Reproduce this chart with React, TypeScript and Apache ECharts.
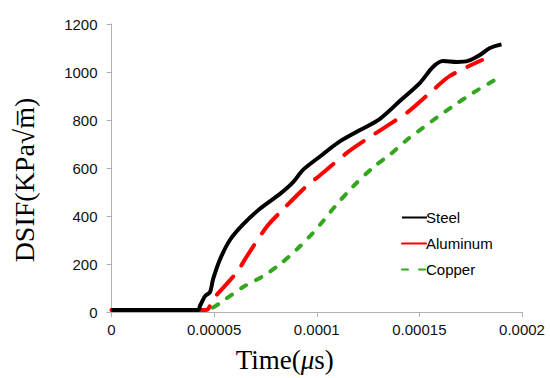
import React, { useEffect, useRef } from "react";
import * as echarts from "echarts";

const xTicks = [0, 0.00005, 0.0001, 0.00015, 0.0002];
const yTicks = [0, 200, 400, 600, 800, 1000, 1200];

const steelT = [0, 0.0000422, 0.0000431, 0.0000456, 0.000048, 0.0000495, 0.0000529, 0.0000577, 0.0000641, 0.0000723, 0.0000821, 0.0000884, 0.0000933, 0.0001016, 0.0001104, 0.0001211, 0.0001308, 0.0001406, 0.0001503, 0.0001566, 0.0001615, 0.0001683, 0.0001737, 0.0001795, 0.0001844, 0.00019];
const steelV = [8, 8, 25, 66, 83, 137, 220, 300, 365, 430, 492, 540, 592, 648, 706, 758, 805, 880, 955, 1021, 1046, 1042, 1046, 1071, 1100, 1115];

const aluT = [0, 0.000046, 0.0000495, 0.0000611, 0.000066, 0.0000758, 0.0000821, 0.0000943, 0.0001016, 0.0001148, 0.0001225, 0.0001367, 0.0001445, 0.0001576, 0.0001649, 0.0001805];
const aluV = [8, 8, 54, 166, 233, 357, 415, 519, 570, 664, 710, 789, 834, 932, 984, 1050];

const copT = [0, 0.0000445, 0.000048, 0.0000543, 0.0000641, 0.0000738, 0.0000821, 0.0000904, 0.0000967, 0.000103, 0.0001089, 0.0001177, 0.0001274, 0.0001357, 0.000144, 0.0001518, 0.0001591, 0.0001659, 0.0001761, 0.0001844, 0.0001868];
const copV = [8, 8, 12, 46, 104, 149, 199, 262, 316, 378, 440, 523, 602, 656, 718, 768, 814, 855, 913, 955, 967];

const zip = (t: number[], v: number[]) => t.map((x, i) => [x, v[i]]);

export default function App() {
  const ref = useRef<HTMLDivElement>(null);
  useEffect(() => {
    if (!ref.current) return;
    const chart = echarts.init(ref.current, null, { renderer: "svg" });
    const axisLabel = { fontFamily: "Liberation Sans, Arial", fontSize: 15, color: "#111" };
    const serif = "Liberation Serif, Times New Roman";
    chart.setOption({
      animation: false,
      grid: { left: 111.5, right: 28, top: 24, bottom: 65 },
      legend: {
        orient: "vertical",
        left: 396,
        top: 205,
        itemWidth: 25,
        itemHeight: 12,
        itemGap: 11,
        itemStyle: { opacity: 0 },
        textStyle: { fontFamily: "Liberation Sans, Arial", fontSize: 15, color: "#000", padding: [0, 0, 0, -6] },
        data: ["Steel", "Aluminum", "Copper"],
      },
      xAxis: {
        type: "value",
        min: xTicks[0],
        max: xTicks[xTicks.length - 1],
        interval: 0.00005,
        splitLine: { show: false },
        axisLine: { lineStyle: { color: "#b0b0b0", width: 1 } },
        axisTick: { show: true, length: 5, lineStyle: { color: "#b0b0b0" } },
        axisLabel: {
          ...axisLabel,
          margin: 10,
          formatter: (v: number) => String(parseFloat(v.toPrecision(6))),
        },
        name: "{a|Time(}{b|μ}{a|s)}",
        nameLocation: "middle",
        nameGap: 34,
        nameTextStyle: {
          padding: [0, 64, 0, 0],
          rich: {
            a: { fontFamily: serif, fontSize: 27, color: "#000" },
            b: { fontFamily: serif, fontSize: 27, fontStyle: "italic", color: "#000" },
          },
        },
      },
      yAxis: {
        type: "value",
        min: yTicks[0],
        max: yTicks[yTicks.length - 1],
        interval: 200,
        splitLine: { show: false },
        axisLine: { show: true, lineStyle: { color: "#b0b0b0", width: 1 } },
        axisTick: { show: true, length: 5, lineStyle: { color: "#b0b0b0" } },
        axisLabel: { ...axisLabel, margin: 14, formatter: (v: number) => String(v) },
        name: "DSIF(KPa√m̅)",
        nameLocation: "middle",
        nameGap: 73,
        nameTextStyle: { fontFamily: serif, fontSize: 28, color: "#000", padding: [0, 24, 0, 0] },
      },
      series: [
        {
          name: "Copper",
          type: "line",
          data: zip(copT, copV),
          symbol: "none",
          smooth: 0.3,
          z: 1,
          color: "#33a51f",
          lineStyle: { color: "#33a51f", width: 4, type: [6, 11], cap: "round" },
        },
        {
          name: "Aluminum",
          type: "line",
          data: zip(aluT, aluV),
          symbol: "none",
          smooth: 0.3,
          z: 2,
          color: "#ff0000",
          lineStyle: { color: "#ff0000", width: 4, type: [24, 14], cap: "round" },
        },
        {
          name: "Steel",
          type: "line",
          data: zip(steelT, steelV),
          symbol: "none",
          smooth: 0.3,
          z: 3,
          color: "#000000",
          lineStyle: { color: "#000000", width: 4 },
        },
      ],
    });
    return () => chart.dispose();
  }, []);
  return <div ref={ref} style={{ width: 550, height: 378, position: "absolute", left: 0, top: 0 }} />;
}
